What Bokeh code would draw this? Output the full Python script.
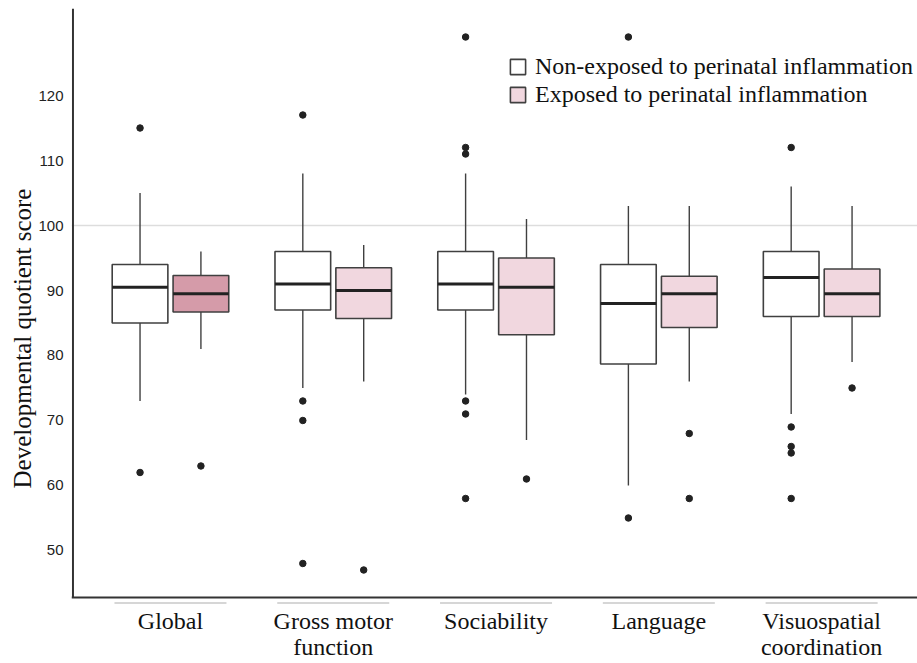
from bokeh.plotting import figure
from bokeh.models import Range1d, FixedTicker, Legend, LegendItem, Title
from bokeh.core.properties import value
from bokeh.embed import file_html
from bokeh.resources import INLINE

# ---------------- data ----------------
categories = ["Global", "Gross motor\nfunction", "Sociability", "Language",
              "Visuospatial\ncoordination"]
groups = ["Non-exposed to perinatal inflammation", "Exposed to perinatal inflammation"]

ne_low = [73, 75, 74, 60, 71]
ne_q1 = [85.0, 87.0, 87.0, 78.7, 86.0]
ne_med = [90.5, 91.0, 91.0, 88.0, 92.0]
ne_q3 = [94.0, 96.0, 96.0, 94.0, 96.0]
ne_high = [105, 108, 108, 103, 106]
ne_outliers = [[115, 62], [117, 73, 70, 48], [129, 112, 111, 73, 71, 58],
               [129, 55], [112, 69, 66, 65, 58]]

ex_low = [81, 76, 67, 76, 79]
ex_q1 = [86.7, 85.7, 83.2, 84.3, 86.0]
ex_med = [89.5, 90.0, 90.5, 89.5, 89.5]
ex_q3 = [92.3, 93.5, 95.0, 92.2, 93.3]
ex_high = [96, 97, 101, 103, 103]
ex_outliers = [[63], [47], [61], [68, 58], [75]]

y_ticks = [50, 60, 70, 80, 90, 100, 110, 120]
reference_line = 100

# ---------------- style ----------------
ne_fill = ["#ffffff"] * 5
ex_fill = ["#d59ba9", "#f1d7df", "#f1d7df", "#f1d7df", "#f1d7df"]
BOX_LINE = "#404040"
OFFSET = 0.187
BOX_W = 0.342
SERIF = "Liberation Serif"

x_lo, x_hi = -0.608, 4.589
y_lo, y_hi = 32.615, 133.385

p = figure(width=917, height=663,
           x_range=Range1d(x_lo, x_hi), y_range=Range1d(y_lo, y_hi),
           output_backend="svg", toolbar_location=None,
           min_border_left=71, min_border_right=0, min_border_top=8,
           min_border_bottom=0)
p.outline_line_color = None
p.background_fill_color = "white"
p.border_fill_color = "white"

p.xaxis.visible = False
p.xgrid.visible = False
p.ygrid.ticker = FixedTicker(ticks=[reference_line])
p.ygrid.grid_line_color = "#dddddd"
p.ygrid.grid_line_width = 1.5

ya = p.yaxis[0]
ya.ticker = FixedTicker(ticks=y_ticks)
ya.axis_line_color = None
ya.major_tick_line_color = None
ya.minor_tick_line_color = None
ya.major_tick_out = 0
ya.major_label_standoff = 8
ya.major_label_text_font = "Liberation Sans"
ya.major_label_text_font_size = "15px"
ya.major_label_text_color = "#222222"

idx = list(range(len(categories)))

# spines (axis frame lines)
spine_y = 42.77
spine_x = x_lo + 0.009
p.segment(x0=[spine_x], y0=[spine_y], x1=[spine_x], y1=[y_hi], line_color="#333333", line_width=2)
p.segment(x0=[x_lo], y0=[spine_y], x1=[x_hi], y1=[spine_y], line_color="#333333", line_width=2)

# light underlines beneath category labels
ul_y = 41.92
p.segment(x0=[i - 0.344 for i in idx], y0=[ul_y] * 5, x1=[i + 0.344 for i in idx], y1=[ul_y] * 5,
          line_color="#c8c8c8", line_width=1.5)

# category labels
p.text(x=idx, y=[41.1] * 5, text=categories, text_align="center", text_baseline="top",
       text_font=value(SERIF), text_font_size="24px", text_color="#111111",
       text_line_height=1.0)


def draw_group(xs, low, q1, med, q3, high, fills, outliers):
    p.segment(x0=xs, y0=q3, x1=xs, y1=high, line_color=BOX_LINE, line_width=1.4)
    p.segment(x0=xs, y0=q1, x1=xs, y1=low, line_color=BOX_LINE, line_width=1.4)
    r = p.vbar(x=xs, width=BOX_W, bottom=q1, top=q3, fill_color=fills,
               line_color=BOX_LINE, line_width=1.6)
    p.segment(x0=[x - BOX_W / 2 for x in xs], y0=med, x1=[x + BOX_W / 2 for x in xs], y1=med,
              line_color="#222222", line_width=3)
    ox, oy = [], []
    for x, vals in zip(xs, outliers):
        for v in vals:
            ox.append(x)
            oy.append(v)
    p.scatter(x=ox, y=oy, size=6.5, fill_color="#222222", line_color="#222222")
    return r


r_ne = draw_group([i - OFFSET for i in idx], ne_low, ne_q1, ne_med, ne_q3, ne_high, ne_fill, ne_outliers)
r_ex = draw_group([i + OFFSET for i in idx], ex_low, ex_q1, ex_med, ex_q3, ex_high, ex_fill, ex_outliers)

legend = Legend(items=[LegendItem(label=groups[0], renderers=[r_ne], index=0),
                       LegendItem(label=groups[1], renderers=[r_ex], index=1)],
                location=(437, 555), orientation="vertical",
                glyph_width=19, glyph_height=19, label_standoff=8, spacing=0,
                padding=0, margin=0, border_line_color=None,
                background_fill_alpha=0, label_text_font=SERIF,
                label_text_font_size="24px", label_height=28,
                label_text_color="#111111")
p.add_layout(legend)

ytitle = Title(text="Developmental quotient score", align="left", offset=175,
               text_font=SERIF, text_font_size="25px", text_font_style="normal",
               text_color="#111111", standoff=0)
p.add_layout(ytitle, "left")

open("out.html", "w").write(file_html(p, INLINE))
